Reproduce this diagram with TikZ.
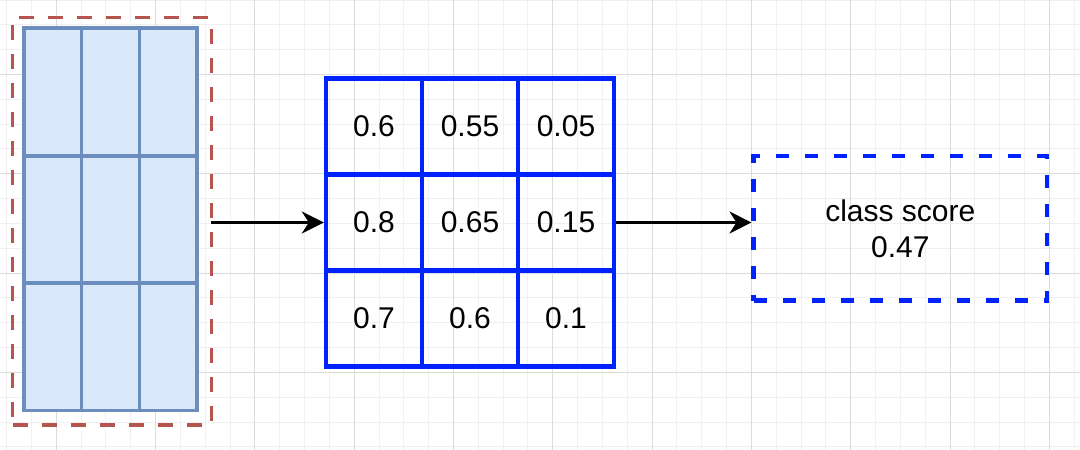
\documentclass[tikz,border=0pt]{standalone}
\usepackage{fontspec}
\setmainfont{Liberation Sans}
\usetikzlibrary{arrows.meta}
\definecolor{gridmin}{HTML}{F0F0F0}
\definecolor{gridmaj}{HTML}{DCDCDC}
\definecolor{cellfill}{HTML}{DAE8FC}
\definecolor{cellline}{HTML}{6C8EBF}
\definecolor{frameline}{HTML}{B85450}
\definecolor{vivid}{HTML}{0022FF}
\begin{document}
\begin{tikzpicture}[x=1pt,y=-1pt,
  minorline/.style={draw=gridmin,line width=1pt},
  majorline/.style={draw=gridmaj,line width=1pt},
  lcell/.style={draw=cellline,fill=cellfill,line width=3.6pt,minimum width=57.67pt,minimum height=127.4pt,inner sep=0pt,outer sep=0pt},
  lbox/.style={draw=cellline,line width=3.8pt,minimum width=173pt,minimum height=382.2pt,inner sep=0pt,outer sep=0pt},
  framebox/.style={draw=frameline,line width=3.6pt,dash pattern=on 15pt off 14pt,minimum width=198.7pt,minimum height=407.4pt,inner sep=0pt,outer sep=0pt},
  mcell/.style={draw=vivid,line width=4.4pt,minimum width=96pt,minimum height=96pt,inner sep=0pt,outer sep=0pt,font=\fontsize{30}{36}\selectfont},
  mbox/.style={draw=vivid,line width=4.4pt,minimum width=288pt,minimum height=288pt,inner sep=0pt},
  scorebox/.style={draw=vivid,line width=4.4pt,dash pattern=on 13pt off 16pt,minimum width=293.3pt,minimum height=144.7pt,inner sep=0pt,align=center,font=\fontsize{30}{36}\selectfont},
  arr/.style={draw=black,line width=2.2pt,-{Stealth[length=22pt,width=22pt,inset=7pt]}}
]
\useasboundingbox (0,0) rectangle (1080,450);
\fill[white] (0,0) rectangle (1080,450);
% background grid
\foreach \i in {-3,...,41} {
  \pgfmathsetmacro\xx{56.3+24.825*\i}
  \draw[minorline] (\xx,0) -- (\xx,450);
}
\foreach \j in {-3,...,16} {
  \pgfmathsetmacro\yy{74.5+24.825*\j}
  \draw[minorline] (0,\yy) -- (1080,\yy);
}
\foreach \i in {-1,...,10} {
  \pgfmathsetmacro\xx{56.3+99.3*\i}
  \draw[majorline] (\xx,0) -- (\xx,450);
}
\foreach \j in {-1,...,4} {
  \pgfmathsetmacro\yy{74.5+99.3*\j}
  \draw[majorline] (0,\yy) -- (1080,\yy);
}
% left input grid
\foreach \r in {0,1,2} {
  \foreach \c in {0,1,2} {
    \node[lcell] (l\r\c) at ({24+57.67*(\c+0.5)},{28.3+127.4*(\r+0.5)}) {};
  }
}
\node[lbox] (inp) at (110.5,219.4) {};
\node[framebox] (frame) at (112,221.3) {};
% middle matrix
\node[mbox] (mat) at (470,222.5) {};
\node[mcell] (m11) at (374,126.5) {0.6};
\node[mcell] (m12) at (470,126.5) {0.55};
\node[mcell] (m13) at (566,126.5) {0.05};
\node[mcell] (m21) at (374,222.5) {0.8};
\node[mcell] (m22) at (470,222.5) {0.65};
\node[mcell] (m23) at (566,222.5) {0.15};
\node[mcell] (m31) at (374,318.5) {0.7};
\node[mcell] (m32) at (470,318.5) {0.6};
\node[mcell] (m33) at (566,318.5) {0.1};
% score box
\node[scorebox] (score) at (900.3,228.3) {class score\\0.47};
% connectors
\draw[arr] (frame.east |- mat.west) -- (mat.west);
\draw[arr] (mat.east) -- (score.west |- mat.east);
\end{tikzpicture}
\end{document}
